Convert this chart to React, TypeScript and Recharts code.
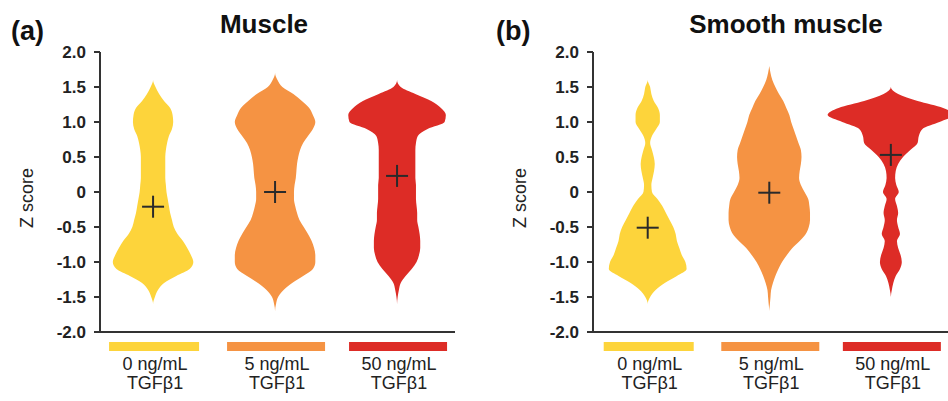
import React from 'react';
import { ComposedChart, Area, XAxis, YAxis, ReferenceDot } from 'recharts';

// z-score levels (top to bottom) at which violin widths were read
const zLevels = [
  1.8, 1.7, 1.6, 1.5, 1.4, 1.3, 1.2, 1.1, 1.0, 0.9, 0.8, 0.7, 0.6, 0.5, 0.4, 0.3, 0.2, 0.1, 0,
  -0.1, -0.2, -0.3, -0.4, -0.5, -0.6, -0.7, -0.8, -0.9, -1.0, -1.1, -1.2, -1.3, -1.4, -1.5, -1.6, -1.7, -1.8,
];

const groupPos = [1, 2, 3];
const groupLabels = ['0 ng/mL', '5 ng/mL', '50 ng/mL'];
const groupSub = ['TGFβ1', 'TGFβ1', 'TGFβ1'];
const yTicks = [-2, -1.5, -1, -0.5, 0, 0.5, 1, 1.5, 2];

// violin half-widths (density) for each z level, panel (a) Muscle
const muscle0 = [
  0, 0, 0, 0.02, 0.05, 0.09, 0.14, 0.16, 0.165, 0.155, 0.13, 0.115, 0.105, 0.1, 0.1, 0.1, 0.1, 0.105, 0.11,
  0.12, 0.13, 0.14, 0.155, 0.17, 0.2, 0.245, 0.28, 0.31, 0.33, 0.3, 0.19, 0.09, 0.04, 0.015, 0, 0, 0,
];
const muscle5 = [
  0, 0, 0.02, 0.06, 0.15, 0.22, 0.28, 0.31, 0.33, 0.31, 0.27, 0.23, 0.205, 0.19, 0.18, 0.175, 0.17, 0.16, 0.155,
  0.155, 0.165, 0.18, 0.2, 0.235, 0.27, 0.3, 0.32, 0.33, 0.33, 0.31, 0.23, 0.14, 0.07, 0.025, 0.008, 0, 0,
];
const muscle50 = [
  0, 0, 0, 0.03, 0.15, 0.28, 0.36, 0.4, 0.39, 0.25, 0.17, 0.155, 0.15, 0.15, 0.15, 0.15, 0.15, 0.155, 0.155,
  0.155, 0.16, 0.165, 0.165, 0.175, 0.185, 0.19, 0.19, 0.18, 0.16, 0.12, 0.07, 0.03, 0.015, 0.005, 0, 0, 0,
];

// panel (b) Smooth muscle
const smooth0 = [
  0, 0, 0, 0.02, 0.03, 0.05, 0.085, 0.1, 0.1, 0.07, 0.035, 0.02, 0.035, 0.05, 0.058, 0.052, 0.04, 0.03, 0.035,
  0.08, 0.12, 0.15, 0.18, 0.21, 0.23, 0.24, 0.26, 0.28, 0.31, 0.32, 0.24, 0.14, 0.065, 0.02, 0, 0, 0,
];
const smooth5 = [
  0, 0.01, 0.025, 0.05, 0.08, 0.115, 0.14, 0.165, 0.18, 0.2, 0.22, 0.24, 0.26, 0.265, 0.26, 0.25, 0.245, 0.26, 0.29,
  0.32, 0.33, 0.335, 0.335, 0.325, 0.3, 0.25, 0.19, 0.145, 0.105, 0.075, 0.05, 0.03, 0.015, 0.01, 0.005, 0, 0,
];
const smooth50 = [
  0, 0, 0, 0, 0.06, 0.22, 0.43, 0.52, 0.4, 0.26, 0.23, 0.22, 0.16, 0.1, 0.06, 0.04, 0.035, 0.045, 0.065,
  0.035, 0.05, 0.06, 0.05, 0.06, 0.075, 0.05, 0.06, 0.08, 0.09, 0.075, 0.04, 0.02, 0.008, 0, 0, 0, 0,
];

// mean markers
const muscleMeans = [-0.21, 0.0, 0.23];
const smoothMeans = [-0.51, -0.01, 0.53];

const colors = ['#fdd43b', '#f59343', '#dd2c26'];
const barWidths = [90, 98, 98];
const FONT = '"Liberation Sans", Arial, Helvetica, sans-serif';
const INK = '#222';

function buildRows(widths: number[][]) {
  return zLevels.map((z, i) => {
    const row: Record<string, any> = { z };
    widths.forEach((w, g) => {
      row['g' + g] = [groupPos[g] - w[i], groupPos[g] + w[i]];
    });
    return row;
  });
}

const CategoryTick = (props: any) => {
  const { x, y, payload } = props;
  const idx = groupPos.indexOf(payload.value);
  if (idx < 0) return null;
  const w = barWidths[idx];
  return (
    <g>
      <rect x={x - w / 2 + 1} y={y + 10} width={w} height={9} fill={colors[idx]} />
      <text x={x + 2} y={y + 38} textAnchor="middle" fontFamily={FONT} fontSize={18} fill={INK}>
        {groupLabels[idx]}
      </text>
      <text x={x + 2} y={y + 57} textAnchor="middle" fontFamily={FONT} fontSize={18} fill={INK}>
        {groupSub[idx]}
      </text>
    </g>
  );
};

const Cross = (props: any) => {
  const { cx, cy } = props;
  if (cx == null || cy == null) return null;
  return (
    <g stroke="#2a2a2a" strokeWidth={2}>
      <line x1={cx - 11} y1={cy} x2={cx + 11} y2={cy} />
      <line x1={cx} y1={cy - 11} x2={cx} y2={cy + 11} />
    </g>
  );
};

function ViolinPanel({
  widths,
  means,
  width,
  right,
  domain,
}: {
  widths: number[][];
  means: number[];
  width: number;
  right: number;
  domain: [number, number];
}) {
  const rows = buildRows(widths);
  return (
    <ComposedChart
      width={width}
      height={401}
      layout="vertical"
      data={rows}
      margin={{ top: 52, right, bottom: 0, left: 40 }}
    >
      <XAxis
        type="number"
        domain={domain}
        allowDataOverflow
        ticks={groupPos}
        interval={0}
        height={69}
        tickLine={false}
        tickSize={0}
        tickMargin={0}
        axisLine={{ stroke: '#333', strokeWidth: 2 }}
        tick={<CategoryTick />}
      />
      <YAxis
        type="number"
        dataKey="z"
        domain={[-2, 2]}
        reversed
        allowDataOverflow
        ticks={yTicks}
        interval={0}
        width={60}
        tickSize={6}
        tickMargin={8}
        axisLine={{ stroke: '#333', strokeWidth: 2 }}
        tickLine={{ stroke: '#333', strokeWidth: 2 }}
        tick={{ fill: INK, fontSize: 17, fontWeight: 700, fontFamily: FONT }}
        tickFormatter={(v: number) => (v === 0 ? '0' : v.toFixed(1))}
      />
      {widths.map((_, g) => (
        <Area
          key={g}
          dataKey={'g' + g}
          type="monotone"
          stroke="none"
          fill={colors[g]}
          fillOpacity={1}
          dot={false}
          activeDot={false}
          isAnimationActive={false}
        />
      ))}
      {means.map((m, g) => (
        <ReferenceDot key={'m' + g} x={groupPos[g]} y={m} r={0} shape={<Cross />} ifOverflow="visible" />
      ))}
    </ComposedChart>
  );
}

export default function App() {
  return (
    <div
      style={{
        position: 'absolute',
        left: 0,
        top: 0,
        width: 948,
        height: 401,
        background: '#fff',
        overflow: 'hidden',
      }}
    >
      <div style={{ position: 'absolute', left: 0, top: 0 }}>
        <ViolinPanel
          widths={[muscle0, muscle5, muscle50]}
          means={muscleMeans}
          width={493}
          right={38}
          domain={[0.565, 3.475]}
        />
      </div>
      <div style={{ position: 'absolute', left: 493, top: 0 }}>
        <ViolinPanel
          widths={[smooth0, smooth5, smooth50]}
          means={smoothMeans}
          width={455}
          right={0}
          domain={[0.55, 3.47]}
        />
      </div>
      <svg
        width={948}
        height={401}
        style={{ position: 'absolute', left: 0, top: 0, pointerEvents: 'none' }}
        fontFamily={FONT}
      >
        <text x={11} y={40} fontSize={27} fontWeight={700} fill="#111">(a)</text>
        <text x={264} y={33} fontSize={26} fontWeight={700} fill="#111" textAnchor="middle">Muscle</text>
        <text x={496} y={40} fontSize={27} fontWeight={700} fill="#111">(b)</text>
        <text x={786} y={33} fontSize={26} fontWeight={700} fill="#111" textAnchor="middle">Smooth muscle</text>
        <text transform="translate(33,198) rotate(-90)" textAnchor="middle" fontSize={18} fill={INK}>Z score</text>
        <text transform="translate(526,198) rotate(-90)" textAnchor="middle" fontSize={18} fill={INK}>Z score</text>
      </svg>
    </div>
  );
}
